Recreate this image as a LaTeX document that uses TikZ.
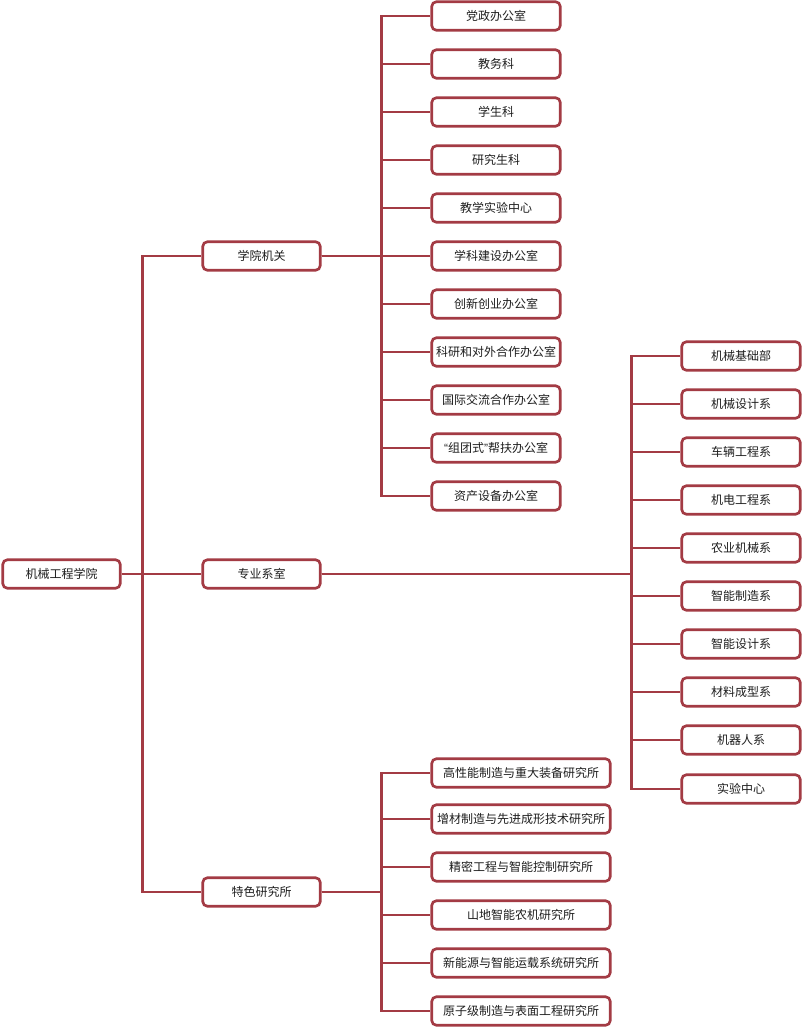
\documentclass[tikz,border=0pt]{standalone}
\usepackage{fontspec}
\newfontfamily\cjk{Noto Sans CJK SC}
\newfontfamily\latq{Liberation Sans}
\definecolor{linec}{RGB}{163,59,68}
\definecolor{txtc}{RGB}{30,30,30}
\begin{document}
\begin{tikzpicture}[x=0.75pt,y=-0.75pt,
  box/.style={draw=linec,line width=2pt,rounded corners=3.5pt,fill=white,inner sep=0pt,
    minimum height=28.5*0.75pt,text=txtc,font=\cjk\fontsize{9}{11}\selectfont},
  wa/.style={box,minimum width=117.5*0.75pt},
  wb/.style={box,minimum width=128.5*0.75pt},
  wc/.style={box,minimum width=118.5*0.75pt},
  wd/.style={box,minimum width=178.5*0.75pt},
  conn/.style={draw=linec,line width=2pt,line join=miter}]
\useasboundingbox (0,0) rectangle (803,1028);
% root and level 1
\node[wa] (root) at (61.5,574) {机械工程学院};
\node[wa] (a) at (261.5,256) {学院机关};
\node[wa] (b) at (261.5,574) {专业系室};
\node[wa] (c) at (261.5,892) {特色研究所};
% children of a
\node[wb] (a1) at (496,16) {党政办公室};
\node[wb] (a2) at (496,64) {教务科};
\node[wb] (a3) at (496,112) {学生科};
\node[wb] (a4) at (496,160) {研究生科};
\node[wb] (a5) at (496,208) {教学实验中心};
\node[wb] (a6) at (496,256) {学科建设办公室};
\node[wb] (a7) at (496,304) {创新创业办公室};
\node[wb] (a8) at (496,352) {科研和对外合作办公室};
\node[wb] (a9) at (496,400) {国际交流合作办公室};
\node[wb] (a10) at (496,448) {{\latq “}组团式{\latq ”}帮扶办公室};
\node[wb] (a11) at (496,496) {资产设备办公室};
% children of b
\node[wc] (b1) at (741,356) {机械基础部};
\node[wc] (b2) at (741,404) {机械设计系};
\node[wc] (b3) at (741,452) {车辆工程系};
\node[wc] (b4) at (741,500) {机电工程系};
\node[wc] (b5) at (741,548) {农业机械系};
\node[wc] (b6) at (741,596) {智能制造系};
\node[wc] (b7) at (741,644) {智能设计系};
\node[wc] (b8) at (741,692) {材料成型系};
\node[wc] (b9) at (741,740) {机器人系};
\node[wc] (b10) at (741,789) {实验中心};
% children of c
\node[wd] (c1) at (521,773) {高性能制造与重大装备研究所};
\node[wd] (c2) at (521,819) {增材制造与先进成形技术研究所};
\node[wd] (c3) at (521,867) {精密工程与智能控制研究所};
\node[wd] (c4) at (521,915) {山地智能农机研究所};
\node[wd] (c5) at (521,963) {新能源与智能运载系统研究所};
\node[wd] (c6) at (521,1011) {原子级制造与表面工程研究所};
% connectors
\foreach \n in {a,b,c} \draw[conn] (root.east) -- ++(21,0) |- (\n.west);
\foreach \n in {a1,a2,a3,a4,a5,a6,a7,a8,a9,a10,a11} \draw[conn] (a.east) -- ++(60,0) |- (\n.west);
\foreach \n in {b1,b2,b3,b4,b5,b6,b7,b8,b9,b10} \draw[conn] (b.east) -- ++(310,0) |- (\n.west);
\foreach \n in {c1,c2,c3,c4,c5,c6} \draw[conn] (c.east) -- ++(60,0) |- (\n.west);
\end{tikzpicture}
\end{document}
